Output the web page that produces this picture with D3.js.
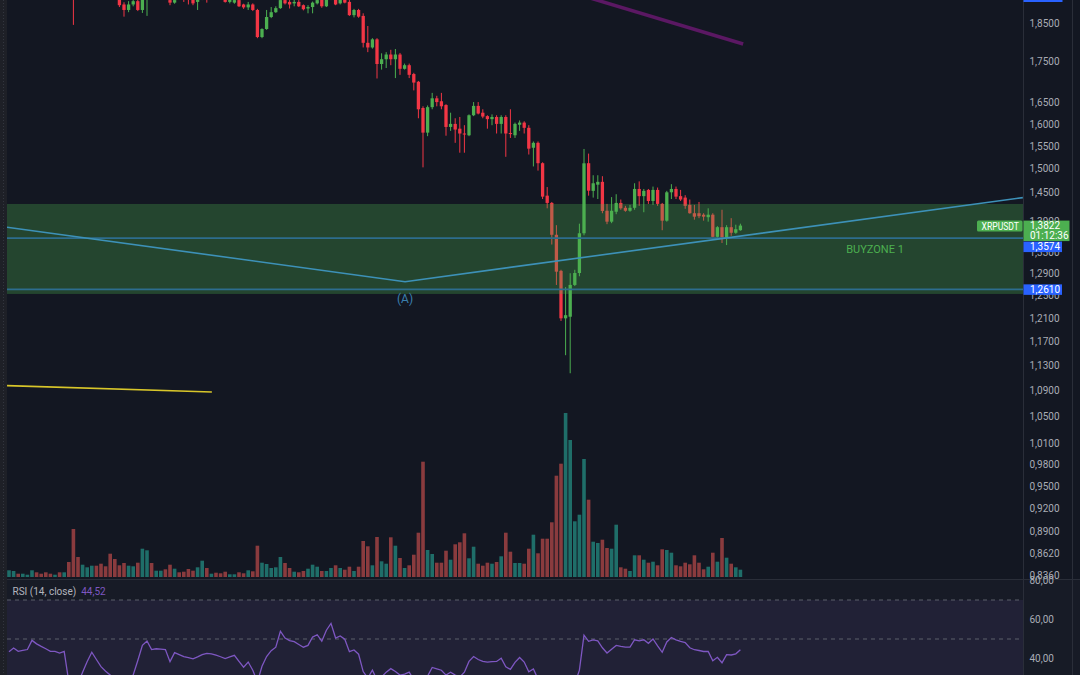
<!DOCTYPE html>
<html><head><meta charset="utf-8">
<script src="https://cdn.jsdelivr.net/npm/d3@7"></script>
<style>html,body{margin:0;padding:0;background:#131722;overflow:hidden}svg{display:block}text{font-family:Roboto,"Noto Sans",sans-serif}</style>
</head><body><svg id="c" width="1080" height="675"></svg>
<script>
// ---------- DATA ----------
const opens=[2.02,2.03,2.04,2.03,2.035,2.04,2.06,2.05,2.045,2.04,
2.035,2.04,2.03,2.035,2.00,1.95,1.93,1.96,1.975,1.985,
1.97,1.955,1.945,1.93,1.915,1.900,1.885,1.900,1.909,1.885,
1.915,1.925,1.918,1.93,1.935,1.912,1.905,1.925,1.93,1.925,
1.915,1.907,1.915,1.935,1.92,1.94,1.93,1.918,1.907,1.905,
1.912,1.900,1.892,1.900,1.885,1.813,1.834,1.866,1.879,1.890,
1.912,1.907,1.903,1.907,1.898,1.889,1.893,1.903,1.915,1.895,
1.915,1.925,1.903,1.915,1.907,1.871,1.885,1.869,1.798,1.786,
1.807,1.744,1.756,1.768,1.756,1.768,1.732,1.741,1.719,1.700,
1.637,1.580,1.639,1.660,1.653,1.644,1.593,1.600,1.589,1.578,
1.574,1.620,1.642,1.626,1.618,1.611,1.616,1.600,1.616,1.579,
1.574,1.598,1.603,1.591,1.546,1.557,1.512,1.443,1.428,1.364,
1.295,1.2095,1.2123,1.269,1.291,1.367,1.512,1.453,1.466,1.472,
1.412,1.390,1.410,1.428,1.418,1.412,1.418,1.457,1.442,1.455,
1.432,1.455,1.426,1.392,1.450,1.457,1.442,1.439,1.424,1.407,
1.407,1.404,1.399,1.404,1.360,1.379,1.356,1.379,1.368,1.373];
const highs=[2.04,2.05,2.05,2.04,2.045,2.065,2.065,2.055,2.05,2.045,
2.045,2.045,2.04,2.04,2.01,1.97,1.97,1.98,1.99,1.99,
1.975,1.96,1.95,1.935,1.925,1.906,1.909,1.915,1.92,1.93,
1.94,1.935,1.94,1.945,1.94,1.925,1.92,1.935,1.94,1.935,
1.925,1.925,1.94,1.945,1.95,1.95,1.94,1.925,1.92,1.918,
1.92,1.902,1.907,1.903,1.888,1.836,1.885,1.893,1.895,1.92,
1.92,1.912,1.915,1.912,1.900,1.898,1.908,1.92,1.925,1.925,
1.94,1.935,1.925,1.925,1.912,1.888,1.888,1.876,1.842,1.810,
1.810,1.771,1.774,1.780,1.782,1.772,1.745,1.745,1.722,1.702,
1.641,1.643,1.673,1.666,1.673,1.646,1.626,1.613,1.616,1.597,
1.622,1.651,1.651,1.634,1.620,1.622,1.620,1.620,1.620,1.634,
1.603,1.608,1.606,1.597,1.560,1.560,1.514,1.461,1.430,1.383,
1.297,1.265,1.2906,1.297,1.386,1.5433,1.533,1.486,1.486,1.484,
1.426,1.440,1.446,1.435,1.422,1.424,1.469,1.473,1.457,1.457,
1.462,1.460,1.428,1.453,1.467,1.462,1.455,1.444,1.435,1.424,
1.430,1.407,1.417,1.407,1.381,1.414,1.383,1.397,1.384,1.386];
const lows=[2.01,2.02,2.025,2.025,2.03,2.035,2.045,2.04,2.035,2.03,
2.03,2.025,2.025,1.99,1.845,1.92,1.925,1.95,1.97,1.96,
1.945,1.94,1.925,1.915,1.893,1.867,1.879,1.895,1.882,1.877,
1.869,1.914,1.915,1.925,1.913,1.898,1.902,1.913,1.907,1.900,
1.898,1.885,1.912,1.905,1.915,1.925,1.914,1.905,1.903,1.902,
1.893,1.888,1.885,1.882,1.810,1.810,1.832,1.863,1.877,1.888,
1.900,1.889,1.895,1.893,1.884,1.876,1.876,1.900,1.891,1.893,
1.912,1.898,1.900,1.903,1.869,1.865,1.864,1.786,1.774,1.783,
1.708,1.730,1.734,1.741,1.709,1.717,1.730,1.709,1.679,1.613,
1.503,1.572,1.634,1.641,1.634,1.573,1.584,1.557,1.535,1.535,
1.572,1.618,1.622,1.613,1.589,1.597,1.578,1.578,1.526,1.568,
1.568,1.584,1.578,1.531,1.505,1.496,1.436,1.417,1.345,1.269,
1.205,1.147,1.1176,1.267,1.285,1.363,1.443,1.439,1.436,1.407,
1.385,1.387,1.405,1.414,1.410,1.410,1.414,1.422,1.409,1.426,
1.424,1.422,1.373,1.390,1.436,1.436,1.432,1.416,1.406,1.394,
1.397,1.392,1.390,1.359,1.358,1.348,1.344,1.362,1.366,1.372];
const closes=[2.03,2.04,2.03,2.035,2.04,2.06,2.05,2.045,2.04,2.035,
2.04,2.03,2.035,2.00,1.95,1.93,1.96,1.975,1.985,1.97,
1.955,1.945,1.93,1.92,1.898,1.885,1.900,1.909,1.885,1.915,
1.925,1.918,1.93,1.935,1.915,1.905,1.912,1.915,1.918,1.915,
1.903,1.915,1.93,1.92,1.94,1.93,1.918,1.907,1.914,1.912,
1.895,1.892,1.900,1.885,1.813,1.834,1.866,1.879,1.890,1.912,
1.903,1.900,1.907,1.895,1.887,1.893,1.905,1.912,1.895,1.915,
1.93,1.900,1.915,1.905,1.871,1.885,1.867,1.798,1.786,1.807,
1.744,1.756,1.768,1.756,1.768,1.732,1.741,1.717,1.698,1.634,
1.580,1.639,1.660,1.651,1.641,1.593,1.600,1.587,1.578,1.576,
1.620,1.642,1.624,1.617,1.611,1.616,1.600,1.616,1.578,1.577,
1.600,1.603,1.591,1.544,1.557,1.512,1.441,1.428,1.364,1.2935,
1.2095,1.215,1.2691,1.291,1.367,1.5118,1.4534,1.469,1.472,1.4116,
1.390,1.412,1.428,1.417,1.412,1.418,1.457,1.442,1.453,1.432,
1.455,1.426,1.392,1.450,1.457,1.441,1.435,1.422,1.407,1.400,
1.401,1.400,1.404,1.360,1.379,1.358,1.379,1.368,1.375,1.3822];
const volumes=[6.7,6,3.3,3.3,2.3,6.7,4.7,3.3,4.7,3.3,
2.3,4.7,4.7,15,48,20,12.3,9.7,11.3,11.3,
13.3,10.7,23.3,18,11.7,14,11.3,10.7,14.3,28.3,
26.7,14,6.3,6.3,7.7,12.3,8.3,4.7,5.3,8,
6.3,9.7,16.3,9,3.3,4.3,3.7,5.3,2.7,2.7,
4.7,3.7,6.7,5.7,31.3,14.3,13,9,9.7,20,
14,9,5.3,4.7,6,8.3,12.3,10.3,6,6,
9,11.7,9,7.3,10.3,6,10.3,36,30.7,11.7,
40,15.7,13.3,39.7,31.3,19,9,11.7,22.3,44.3,
115.3,27,23,14.3,14.3,26.3,17.3,32.7,34.7,43.7,
18.7,30.3,13.3,11.3,14.3,13.3,15,20.7,44.3,25.3,
14,14,13.3,28.3,42.3,23.7,38.3,38.3,54.7,101.3,
113.3,164,137,55.7,62.3,118,77.3,35.3,34,37.3,
29,28.3,52.3,9.7,8.3,6,21.7,21.7,17.3,14.3,
15.3,11.7,27.7,27,24.3,11.7,10.7,14.3,12.7,21.7,
14.3,7.7,10.3,24.3,15.3,39,19.3,13.3,9.7,7.3];
const rsiValues=[43.5,45.4,43.7,44.2,44.6,49.3,47.5,46.2,45,43.7,
43.7,42.8,43.7,28,24,27,33,38.5,43.2,39.5,
35.8,33.5,31.5,29,28,27,29,31.6,39,46.8,
49,44.6,45,44.8,44.6,38.4,43,42,41,40.4,
39.8,40.8,42,42.6,42.4,41.7,40.9,40,40.8,41.6,
38.5,35.5,38.2,34,28,36,41,44,45.8,54,
50.5,49.2,48.6,47.2,45.8,46.7,51,52.2,48.9,54.5,
58,50.5,51.6,49.9,43.5,44.4,42.2,33.3,30,34,
29,30.5,33,34.8,33.3,31.5,32,33,29,26,
24,31,35.4,34.7,34,31.5,33,31.5,30.5,33,
38.5,41,39.5,38.5,38.1,38.4,38.5,40.2,35.8,34.4,
38,40.5,38.2,33.2,34.6,29.5,25,24.5,22,19,
16,20,24,27,34,52,48.8,49.5,49,45.5,
42.8,44.8,46.7,46.2,45.8,45.8,49.6,49,49.6,47.8,
50,46.5,43.2,48.5,50.8,49.6,48.8,48.2,45.5,44.5,
44.1,43.6,43.6,38.8,40.6,37.8,42,41.8,42.4,44.52];
const priceTicks=[1.85,1.75,1.65,1.60,1.55,1.50,1.45,1.39,1.33,1.29,1.25,1.21,1.17,1.13,1.09,1.05,1.01,0.98,0.95,0.92,0.89,0.862,0.836];
const rsiTicks=[80,60,40];
const rsiBands=[70,50,30];
const zoneBounds=[1.4259,1.2527];
const zoneLabel="BUYZONE 1";
const levels=[1.3574,1.2610];
const trendBlue=[[-0.43,1.379],[86.1,1.275],[220.4,1.439]];
const trendPurple=[[120,1.942],[159.6,1.795]];
const trendYellow=[[-0.43,1.0978],[44.1,1.0878]];
const pointLabel={i:86.1,price:1.275,text:"(A)"};
const symbol="XRPUSDT", lastPrice=1.3822, countdown="01:12:36";
const rsiTitle="RSI (14, close)", rsiLast=44.52;

// ---------- LAYOUT ----------
const W=1080,H=675, L=7, R=1023, mainBottom=579;
const svg=d3.select("#c");
const fmt4=v=>d3.format(".4f")(v).replace(".",",");
const fmt2=v=>d3.format(".2f")(v).replace(".",",");
const n=closes.length;
const x=d3.scaleLinear().domain([0,n-1]).range([9,740.4]);
const y=d3.scaleLog().domain([0.836,1.85]).range([575,23]);
const yv=d3.scaleLinear().domain([0,164]).range([577,413]);
const yr=d3.scaleLinear().domain([30,70]).range([678,600]);
const UP="#4caf50", DOWN="#f23645", VUP="#1f6e69", VDOWN="#8a3b3e";
const FS=10;

svg.append("rect").attr("width",W).attr("height",H).attr("fill","#131722");
const defs=svg.append("defs");
defs.append("clipPath").attr("id","cm").append("rect").attr("x",L).attr("y",0).attr("width",R-L).attr("height",mainBottom);
defs.append("clipPath").attr("id","cr").append("rect").attr("x",L).attr("y",mainBottom+1).attr("width",R-L).attr("height",H-mainBottom);

// left strip
svg.append("rect").attr("x",0).attr("y",0).attr("width",L).attr("height",H).attr("fill","#1e2027");
svg.append("line").attr("x1",3.5).attr("x2",3.5).attr("y1",0).attr("y2",H).attr("stroke","#33363f").attr("stroke-dasharray","1,2");

// RSI pane background
svg.append("rect").attr("x",L).attr("y",mainBottom).attr("width",W-L).attr("height",H-mainBottom).attr("fill","#171b26");
svg.append("rect").attr("x",L).attr("y",yr(rsiBands[0])).attr("width",R-L).attr("height",yr(rsiBands[2])-yr(rsiBands[0])).attr("fill","rgba(126,87,194,0.1)");

const idx=d3.range(n);
const gm=svg.append("g").attr("clip-path","url(#cm)");
// volume
gm.selectAll("rect.v").data(idx).join("rect").attr("class","v")
 .attr("x",i=>x(i)-1.8).attr("width",3.6)
 .attr("y",i=>yv(volumes[i])).attr("height",i=>yv(0)-yv(volumes[i]))
 .attr("fill",i=>closes[i]>=opens[i]?VUP:VDOWN);
// candles
const cg=gm.selectAll("g.c").data(idx).join("g").attr("class","c");
cg.append("line").attr("x1",i=>x(i)).attr("x2",i=>x(i))
 .attr("y1",i=>y(highs[i])).attr("y2",i=>y(lows[i]))
 .attr("stroke",i=>closes[i]>=opens[i]?UP:DOWN).attr("stroke-width",1);
cg.append("rect").attr("x",i=>x(i)-1.65).attr("width",3.3)
 .attr("y",i=>y(Math.max(opens[i],closes[i])))
 .attr("height",i=>Math.max(1,Math.abs(y(opens[i])-y(closes[i]))))
 .attr("fill",i=>closes[i]>=opens[i]?UP:DOWN);

// zone
gm.append("rect").attr("x",L).attr("width",R-L).attr("y",y(zoneBounds[0])).attr("height",y(zoneBounds[1])-y(zoneBounds[0]))
 .attr("fill","rgba(76,175,80,0.3)");
// levels
gm.selectAll("line.lv").data(levels).join("line").attr("class","lv")
 .attr("x1",L).attr("x2",R).attr("y1",d=>y(d)).attr("y2",d=>y(d))
 .attr("stroke","#2d6d8e").attr("stroke-width",1.6);
const line=d3.line().x(d=>x(d[0])).y(d=>y(d[1]));
gm.append("path").attr("d",line(trendBlue)).attr("fill","none").attr("stroke","#3d91b8").attr("stroke-width",1.6);
gm.append("path").attr("d",line(trendPurple)).attr("fill","none").attr("stroke","#5b1863").attr("stroke-width",3.5);
gm.append("path").attr("d",line(trendYellow)).attr("fill","none").attr("stroke","#d8c62a").attr("stroke-width",1.6);
gm.append("text").attr("x",x(pointLabel.i)).attr("y",y(pointLabel.price)+17).attr("text-anchor","middle")
 .attr("dominant-baseline","central").attr("font-size",12).attr("fill","#3b7fae").text(pointLabel.text);
gm.append("text").attr("x",875).attr("y",y(levels[0])+11).attr("text-anchor","middle")
 .attr("dominant-baseline","central").attr("font-size",11).attr("fill","#4caf50").text(zoneLabel);

// RSI
const gr=svg.append("g").attr("clip-path","url(#cr)");
gr.selectAll("line.rb").data(rsiBands).join("line").attr("class","rb")
 .attr("x1",L).attr("x2",R).attr("y1",d=>yr(d)).attr("y2",d=>yr(d))
 .attr("stroke","#5d606b").attr("stroke-dasharray","4,4").attr("stroke-width",1);
gr.append("path").attr("d",d3.line().x((d,i)=>x(i)).y(d=>yr(d))(rsiValues))
 .attr("fill","none").attr("stroke","#7e57c2").attr("stroke-width",1.3);
const rt=svg.append("text").attr("x",12.5).attr("y",590.7).attr("dominant-baseline","central").attr("font-size",FS);
rt.append("tspan").attr("fill","#b2b5be").text(rsiTitle);
rt.append("tspan").attr("fill","#7e57c2").attr("dx",5).text(fmt2(rsiLast));

// separators
svg.append("line").attr("x1",L).attr("x2",W).attr("y1",mainBottom+0.5).attr("y2",mainBottom+0.5).attr("stroke","#2a2e39");
svg.append("line").attr("x1",R+0.5).attr("x2",R+0.5).attr("y1",0).attr("y2",H).attr("stroke","#2a2e39");
svg.append("line").attr("x1",1072.5).attr("x2",1072.5).attr("y1",0).attr("y2",H).attr("stroke","#2a2e39");

// axes
const ax=svg.append("g").attr("transform",`translate(${R},0)`)
 .call(d3.axisRight(y).tickValues(priceTicks).tickFormat(fmt4).tickSize(0).tickPadding(6.5));
ax.select(".domain").remove();
ax.selectAll("text").attr("fill","#a9acb5").attr("font-size",FS).attr("font-family","Roboto,'Noto Sans',sans-serif");
const ar=svg.append("g").attr("transform",`translate(${R},0)`)
 .call(d3.axisRight(yr).tickValues(rsiTicks).tickFormat(fmt2).tickSize(0).tickPadding(6.5));
ar.select(".domain").remove();
ar.selectAll("text").attr("fill","#a9acb5").attr("font-size",FS).attr("font-family","Roboto,'Noto Sans',sans-serif");

// price labels
const py=y(lastPrice);
svg.append("rect").attr("x",R+0.5).attr("y",-9).attr("width",39).attr("height",11).attr("fill","#2962ff");
svg.append("rect").attr("x",977).attr("y",py-5).attr("width",45.5).attr("height",11).attr("rx",1.5).attr("fill","#4caf50");
svg.append("text").attr("x",981.5).attr("y",py+0.5).attr("dominant-baseline","central")
 .attr("font-size",FS).attr("textLength",37.5).attr("lengthAdjust","spacingAndGlyphs").attr("fill","#ffffff").text(symbol);
svg.append("rect").attr("x",R+0.5).attr("y",py-5).attr("width",46).attr("height",20.5).attr("fill","#4caf50");
svg.append("text").attr("x",1030).attr("y",py+0.2).attr("dominant-baseline","central").attr("font-size",FS).attr("fill","#ffffff").text(fmt4(lastPrice));
svg.append("text").attr("x",1030).attr("y",py+9.6).attr("dominant-baseline","central").attr("font-size",FS).attr("fill","#ffffff").text(countdown);
let prevBottom=py+15.5;
levels.forEach(v=>{
  let c=Math.max(y(v),prevBottom+5.5);
  svg.append("rect").attr("x",R+0.5).attr("y",c-5).attr("width",38.5).attr("height",10.5).attr("fill","#2962ff");
  svg.append("text").attr("x",1030).attr("y",c+0.3).attr("dominant-baseline","central").attr("font-size",FS).attr("fill","#ffffff").text(fmt4(v));
  prevBottom=c+5.5;
});
</script></body></html>
